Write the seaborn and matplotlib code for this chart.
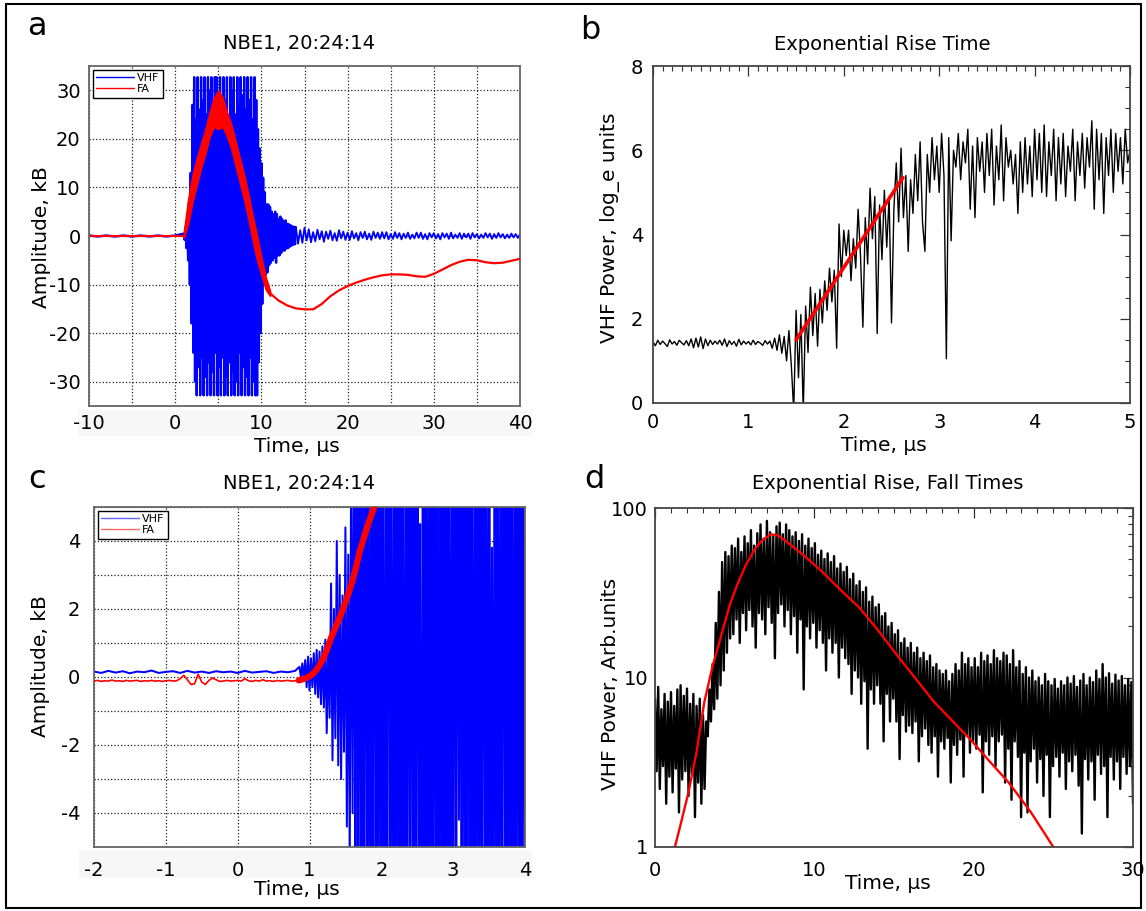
import numpy as np
import matplotlib
matplotlib.use("Agg")
import matplotlib.pyplot as plt
import seaborn as sns
from matplotlib.lines import Line2D
from matplotlib.patches import Rectangle
from matplotlib.ticker import MultipleLocator, FixedLocator, NullFormatter, FixedFormatter

# ======================= DATA =======================
# ---- Panel a : NBE1, full record (kB vs us) ----
vhf_a_pre = [0.1, -0.1, 0.1, -0.1, 0.1, -0.1, 0.1, -0.1, 0.1, -0.1, 0.1]          # t = -10 .. 0
vhf_a_burst = [                                                                    # t = 1.0 .. 14.0
    0.5, -0.8, 1.8, -2.5, 3.5, -5, 7, -10, 13, -18,
    27, -24, 32.7, -30, 24, -32.8, 32.7, -27, 26, -32.8,
    32.7, -25, 28, -32.8, 32.7, -29, 25, -32.8, 32.7, -26,
    30, -32.8, 32.7, -28, 27, -32.8, 32.7, -24, 32.7, -32.8,
    29, -27, 32.7, -32.8, 26, -25, 32.7, -32.8, 28, -29,
    32.7, -32.8, 24, -26, 32.7, -32.8, 30, -28, 32.7, -32.8,
    25, -30, 32.7, -32.8, 27, -24, 32.7, -32.8, 29, -27,
    32.7, -32.8, 26, -29, 32.7, -32.8, 28, -25, 32.7, -32.8,
    24, -30, 32.7, -32.8, 28, -32.8, 22, -26, 18, -20,
    15, -14, 12, -10, 9, -8, 6.5, -7.5, 6.5, -6,
    6, -5.5, 5, -5, 4.5, -4.5, 5, -5.5, 4.5, -4,
    3.5, -4, 4, -3.5, 3.5, -3, 3, -3, 3.2, -2.6,
    2.5, -2.5, 2.4, -2.2, 2.2, -2, 2, -1.8, 1.9, -1.7,
    1.8]
vhf_a_tail = [                                                                     # t = 14.25 .. 40
    -1.6, 1.2, -1.4, 1.7, -0.9, 1.4, -1.3, 0.8,
    -1.1, 1.3, -0.7, 1.0, -1.2, 0.9, -0.6, 1.1,
    -0.9, 0.6, -1.0, 1.2, -0.5, 0.9, -0.8, 0.7,
    -0.8, 1.0, -0.5, 0.6, -0.9, 0.8, -0.4, 0.9,
    -0.7, 0.5, -0.8, 0.9, -0.4, 0.7, -0.6, 0.8,
    -0.5, 0.8, -0.7, 0.4, -0.6, 0.8, -0.4, 0.6,
    -0.7, 0.5, -0.4, 0.7, -0.6, 0.3, -0.5, 0.7,
    -0.4, 0.7, -0.6, 0.4, -0.7, 0.6, -0.3, 0.6,
    -0.5, 0.4, -0.7, 0.6, -0.3, 0.5, -0.6, 0.7,
    -0.5, 0.3, -0.4, 0.6, -0.6, 0.5, -0.3, 0.5,
    -0.6, 0.6, -0.3, 0.4, -0.5, 0.3, -0.4, 0.6,
    -0.3, 0.5, -0.6, 0.4, -0.4, 0.6, -0.3, 0.4,
    -0.5, 0.3, -0.4, 0.5, -0.3, 0.4, -0.4, 0.4]
fa_a_base_t = [-10.0, 1.0]
fa_a_base_v = [0.0, 0.0]
fa_a_burst_t = [1.0, 1.5, 2.0, 2.5, 3.0, 3.5, 4.0, 4.5, 5.0, 5.5, 6.0,
                6.5, 7.0, 7.5, 8.0, 8.5, 9.0, 9.5, 10.0, 10.5, 11.0]
fa_a_hi = [0.8, 7.5, 12.5, 16, 19, 22, 25.5, 28.5, 30, 28.5, 25.5,
           23, 19.5, 16, 12.5, 8.5, 4, 0, -4.5, -8.5, -11.3]
fa_a_lo = [-0.3, 2.5, 7, 10.5, 14, 17, 20.5, 22.5, 22, 22.5, 20.5,
           18, 14.5, 11, 7.5, 3.5, -1, -5, -8, -11, -12.3]
fa_a_tail_t = [11, 12, 13, 14, 15, 16, 17, 18, 19, 20, 21, 22, 23, 24, 25,
               26, 27, 28, 29, 30, 31, 32, 33, 34, 35, 36, 37, 38, 39, 40]
fa_a_tail_v = [-11.8, -13.3, -14.3, -14.9, -15.1, -15.1, -14.0, -12.4, -11.2, -10.3,
               -9.6, -9.0, -8.5, -8.1, -7.9, -7.9, -8.0, -8.3, -8.4, -7.8,
               -6.9, -6.0, -5.3, -4.9, -5.0, -5.4, -5.6, -5.5, -5.1, -4.7]

# ---- Panel b : VHF power, log_e units, t = 0 .. 5 us ----
vhf_b = [
    1.45, 1.36, 1.49, 1.39, 1.47, 1.41, 1.34, 1.50, 1.40, 1.46, 1.37, 1.49, 1.43,
    1.38, 1.48, 1.36, 1.52, 1.31, 1.54, 1.33, 1.57, 1.29, 1.52, 1.36, 1.49, 1.39, 1.47,
    1.40, 1.49, 1.37, 1.52, 1.34, 1.48, 1.39, 1.46, 1.35, 1.51, 1.38, 1.47, 1.40, 1.46,
    1.38, 1.49, 1.39, 1.46, 1.42, 1.37, 1.48, 1.40, 1.47, 1.30, 1.54, 1.25,
    1.62, 1.18, 1.58, 1.00, 1.72, 0.90, -0.2, 2.20, 0.60, 2.10, -0.2, 2.30,
    1.20, 2.75, 1.60, 2.60, 1.35, 2.70, 1.90, 2.90, 2.20, 3.20, 2.40, 3.15, 1.30, 4.25, 3.00, 4.10,
    3.5, 4.1, 2.9, 3.9, 3.2, 4.6, 3.5, 1.8, 4.4, 3.3, 5.1, 3.9, 4.9, 1.65, 4.7, 3.4, 5.05, 3.7, 4.9, 1.9,
    4.6, 5.7, 4.3, 6.05, 4.4, 5.4, 3.6, 5.3, 4.5, 5.9, 4.8, 6.2, 4.3, 3.6, 5.9, 5.0, 6.3, 5.3, 6.1, 5.0,
    6.4, 5.4, 1.05, 6.3, 3.85, 6.0, 5.6, 6.4, 5.3, 6.2, 5.7, 6.5, 4.6, 6.1, 4.4, 6.3, 5.5, 6.2, 5.0, 6.4,
    5.4, 6.5, 4.7, 6.1, 5.3, 6.6, 4.8, 6.3, 5.6, 6.0, 5.2, 5.9, 4.5, 6.2, 5.0, 6.3, 5.2, 6.1, 4.9, 6.5,
    5.3, 6.4, 5.0, 6.6, 4.9, 6.2, 5.4, 6.5, 4.8, 6.3, 5.2, 6.4, 4.9, 6.1, 5.5, 6.5, 4.8, 6.2, 5.4, 6.4,
    5.1, 6.3, 5.6, 6.7, 4.6, 6.5, 5.3, 6.4, 4.5, 6.3, 5.4, 6.5, 5.0, 6.4, 5.5, 6.3, 5.2, 6.5, 5.7, 6.0]
fit_b_t = [1.5, 2.62]
fit_b_v = [1.5, 5.35]

# ---- Panel c : NBE1 zoomed onset (kB vs us) ----
vhf_c_base = [0.16, 0.12, 0.18, 0.13, 0.17, 0.11, 0.16, 0.14, 0.19, 0.12,        # t = -2.0 .. 0.8
              0.15, 0.17, 0.12, 0.18, 0.13, 0.16, 0.12, 0.17, 0.14, 0.16,
              0.12, 0.18, 0.13, 0.15, 0.17, 0.12, 0.16, 0.14, 0.18]
vhf_c_onset = [0.3, 0.0, 0.4, -0.1, 0.5, -0.3, 0.6, -0.4, 0.55, -0.3,            # t = 0.86 .. 1.64
               0.7, -0.5, 0.8, -0.6, 0.75, -0.8, 0.9, -0.9, 1.1, -1.65,
               1.0, -1.2, 2.75, -2.45, 2.0, -1.8, 4.0, -2.6, 3.0, -3.0,
               2.4, -2.2, 4.4, -4.4, 3.6, -5.6, 6.5, -4.0, 8.0, -7.0]
vhf_c_burst = [12, -9, 15, -11, 8, -14, 18, -7, 10, -16,                         # t = 1.66 .. 4.0
               13, -12, 20, -9, 11, -15, 17, -10, 9, -18,
               14, -13, 22, -8, 12, -16, 10, -11, 16, -14,
               19, -9, 13, -20, 11, -12, 15, -8, 18, -15,
               10, -13, 21, -10, 4.5, -17, 14, -11, 12, -19,
               16, -9, 11, -14, 20, -12, 9, -16, 15, -10,
               13, -18, 17, -11, 10, -15, 12, -9, 19, -13,
               14, -4.2, 11, -16, 18, -10, 9, -14, 22, -12,
               13, -17, 10, -11, 16, -15, 12, -9, 20, -13,
               11, -18, 15, -10, 3.8, -14, 17, -12, 10, -16,
               14, -9, 19, -11, 12, -15, 16, -10, 13, -17,
               11, -12, 18, -14, 12, -10, 15, -13]
fa_c_base = [-0.12, -0.10, -0.13, -0.11, -0.12, -0.09, -0.12, -0.11, -0.13, -0.10,   # t = -2.0 .. 0.85
             -0.12, -0.11, -0.10, -0.13, -0.11, -0.12, -0.10, -0.12, -0.11, -0.13,
             -0.11, -0.10, -0.12, -0.11, -0.05, 0.05, -0.08, -0.22, -0.20, 0.08,
             -0.15, -0.22, -0.10, -0.03, -0.08, -0.13, -0.12, -0.10, -0.12, -0.11,
             -0.10, -0.12, -0.05, -0.11, -0.13, -0.10, -0.12, -0.08, -0.12, -0.11,
             -0.13, -0.10, -0.12, -0.11, -0.10, -0.12, -0.11, -0.10]
fa_c_rise_t = [0.85, 0.9, 0.95, 1.0, 1.05, 1.1, 1.15, 1.2, 1.25, 1.3, 1.35, 1.4, 1.45,
               1.5, 1.55, 1.6, 1.65, 1.7, 1.75, 1.8, 1.85, 1.9, 1.95, 2.0, 2.05]
fa_c_rise_v = [-0.1, -0.07, -0.03, 0.02, 0.1, 0.22, 0.38, 0.58, 0.85, 1.15, 1.4, 1.65, 1.9,
               2.2, 2.5, 2.85, 3.25, 3.7, 4.05, 4.4, 4.7, 5.0, 5.3, 5.6, 5.9]

# ---- Panel d : VHF power (arb. units), t = 0 .. 30 us, upper / lower extremes ----
pow_d_hi = [7.5, 8.8, 6.5, 8.0, 7.2,   8.2, 6.8, 8.5, 9.0, 7.8,   8.6, 7.0, 8.0, 6.8, 7.5,
            6.0, 5.5, 8.5, 12, 21,     32, 48, 55, 52, 60,        58, 66, 55, 68, 62,
            74, 60, 71, 80, 66,        84, 72, 68, 78, 82,        70, 80, 74, 68, 72,
            64, 70, 60, 66, 58,        62, 53, 56, 50, 54,        48, 52, 44, 47, 42,
            45, 38, 41, 35, 37,        32, 34, 28, 30, 26,        27, 23, 24, 20, 21,
            18, 19, 16, 17, 15,        16, 14, 15, 13, 14,        12.5, 13.5, 11.5, 12, 11,
            10.5, 11, 9.5, 10.5, 12,   11, 14, 12, 13, 11.5,      13, 11.5, 14, 12.5, 13.5,
            12, 14.5, 13, 12.5, 14,    13.5, 12, 14.5, 11.5, 12.5, 10.5, 11.5, 10, 11, 9.5,
            10, 9, 10.5, 9.5, 9,       9.8, 8.6, 9.5, 9, 10,      9.2, 10.2, 8.8, 9.6, 10.5,
            9, 10, 9.4, 11, 9.8,       12, 10, 10.6, 9.2, 10.4,   9.6, 10.2, 9, 9.8, 9.4]
pow_d_lo = [2.8, 2.2, 3.0, 1.8, 2.6,   2.1, 2.9, 1.6, 2.5, 2.8,   2.0, 2.7, 1.5, 2.4, 1.8,
            2.2, 4.5, 5.5, 6.5, 7.5,   9, 11, 14, 17, 18,         22, 16, 24, 19, 25,
            20, 15, 24, 22, 18,        26, 21, 13, 24, 27,        20, 25, 18, 23, 14,
            22, 8.5, 20, 17, 21,       15, 19, 16, 11, 17,        14, 16, 10, 15, 13,
            12, 8, 11, 10, 7,          9.5, 3.8, 8.5, 7, 9,       7, 4.2, 8, 5.5, 7.5,
            5.5, 3.3, 6, 4.8, 5.2,     4.7, 5.5, 3.2, 4.5, 5,     4, 3.6, 4.5, 2.6, 4.2,
            3.8, 4.4, 2.4, 4, 3.5,     4.3, 2.6, 4.6, 3.6, 4.2,   3.8, 4.6, 2.1, 4.2, 3.5,
            4.5, 3, 4.2, 4.6, 2.4,     3.8, 1.9, 4.2, 3.4, 1.5,   3.6, 1.6, 3.2, 3.8, 2.4,
            3.3, 2, 3.5, 1.5, 3,       3.4, 2.6, 3.6, 2.2, 3.2,   2.8, 3.5, 2.3, 1.2, 3.3,
            2.5, 3.2, 1.9, 3.5, 2.7,   3, 1.5, 3.4, 2.5, 3.2,     2.2, 3.4, 2.7, 3, 1.8]
fit_d_t = [1.25, 1.6, 2.1, 2.6, 3.1, 3.6, 4.2, 4.7, 5.2, 5.7, 6.25, 6.7, 7.26, 7.7, 8.1,
           9.3, 10.5, 11.7, 12.85, 14.0, 15.2, 16.3, 17.5, 18.7, 19.9, 21.0, 22.2, 23.6, 25.0]
fit_d_v = [1.0, 1.35, 2.1, 3.6, 7.2, 11.5, 18.3, 27, 36, 46, 57, 64, 70, 69, 65,
           53, 42, 32.5, 25.7, 19, 13.5, 10, 7.2, 5.5, 4.2, 3.2, 2.4, 1.6, 1.0]

# ======================= STYLE =======================
sns.set_style("white")
plt.rcParams['font.family'] = ['DejaVu Sans']
plt.rcParams['axes.unicode_minus'] = False
plt.rcParams['path.simplify'] = False
for k in ['text.color', 'axes.labelcolor', 'xtick.labelcolor', 'ytick.labelcolor']:
    plt.rcParams[k] = 'black'
BLUE, RED, BLACK = '#0000ff', '#ff0000', '#000000'
FS_TICK, FS_LAB = 14, 14.5

W, H = 1146, 911
fig = plt.figure(figsize=(W / 100, H / 100), dpi=100)


def axes_px(left, top, right, bottom):
    return fig.add_axes([left / W, 1 - bottom / H, (right - left) / W, (bottom - top) / H])


def line(ax, x, y, **kw):
    sns.lineplot(x=np.asarray(x, float), y=np.asarray(y, float), ax=ax,
                 estimator=None, sort=False, **kw)


def style_labels(ax, xl, yl, title, xlc, ylc, tc, fs_t=14):
    ax.set_xlabel(xl, fontsize=FS_LAB)
    ax.set_ylabel(yl, fontsize=FS_LAB)
    ax.xaxis.set_label_coords(*xlc)
    ax.yaxis.set_label_coords(*ylc)
    ax.xaxis.label.set_va('center')
    ax.yaxis.label.set_va('center')
    ax.set_title(title, fontsize=fs_t, x=tc[0], y=tc[1], va='center', pad=0)


def legend_vhf_fa(ax, alpha=1.0):
    handles = [Line2D([], [], color=BLUE, lw=1.0, alpha=alpha),
               Line2D([], [], color=RED, lw=1.0, alpha=alpha)]
    leg = ax.legend(handles, ['VHF', 'FA'], loc='upper left', fontsize=8,
                    frameon=True, fancybox=False, framealpha=1, edgecolor='black',
                    handlelength=3.4, handletextpad=0.3, borderpad=0.3,
                    labelspacing=0.1, borderaxespad=0.35)
    leg.get_frame().set_linewidth(1.0)
    leg.set_zorder(10)


# very light gray strips behind the x tick labels of a and c (as in the original)
for (x0, y0, x1, y1) in [(78, 410, 532, 436), (79, 850, 532, 878)]:
    fig.add_artist(Rectangle((x0 / W, 1 - y1 / H), (x1 - x0) / W, (y1 - y0) / H,
                             transform=fig.transFigure, color='#f7f7f7', zorder=-1, lw=0))

# ---------------- Panel a ----------------
ax = axes_px(89, 66, 520, 406)
t_pre = np.linspace(-10, 0, len(vhf_a_pre))
t_burst = np.linspace(1.0, 14.0, len(vhf_a_burst))
t_tail = np.linspace(14.25, 40.0, len(vhf_a_tail))
line(ax, np.concatenate([t_pre, t_burst]), np.concatenate([vhf_a_pre, vhf_a_burst]),
     color=BLUE, lw=1.7)
line(ax, np.concatenate([[t_burst[-1]], t_tail]), np.concatenate([[vhf_a_burst[-1]], vhf_a_tail]),
     color=BLUE, lw=1.3)
line(ax, fa_a_base_t, fa_a_base_v, color=RED, lw=1.5)
ax.fill_between(fa_a_burst_t, fa_a_lo, fa_a_hi, color=RED, lw=1.2, edgecolor=RED, zorder=3)
line(ax, fa_a_tail_t, fa_a_tail_v, color=RED, lw=1.6, zorder=3)
ax.set_xlim(-10, 40)
ax.set_ylim(-35, 35)
ax.xaxis.set_major_locator(MultipleLocator(10))
ax.xaxis.set_minor_locator(MultipleLocator(5))
ax.yaxis.set_major_locator(MultipleLocator(10))
ax.grid(True, which='both', axis='x', ls=':', color='#222222', lw=0.9)
ax.grid(True, which='major', axis='y', ls=':', color='#222222', lw=0.9)
ax.tick_params(which='both', direction='in', length=3, width=0.8, color='#555555',
               labelsize=FS_TICK, pad=6, top=False, right=False)
for s in ax.spines.values():
    s.set_color('#666666'); s.set_linewidth(1.3)
style_labels(ax, 'Time, μs', 'Amplitude, kB', 'NBE1, 20:24:14',
             (0.483, -0.118), (-0.111, 0.497), (0.487, 1.065))
legend_vhf_fa(ax)

# ---------------- Panel b ----------------
ax = axes_px(653, 66, 1130, 403)
line(ax, np.linspace(0, 5, len(vhf_b)), vhf_b, color=BLACK, lw=1.0)
line(ax, fit_b_t, fit_b_v, color=RED, lw=2.6)
ax.set_xlim(0, 5)
ax.set_ylim(0, 8)
ax.xaxis.set_major_locator(MultipleLocator(1))
ax.xaxis.set_minor_locator(MultipleLocator(0.1))
ax.yaxis.set_major_locator(MultipleLocator(2))
ax.yaxis.set_minor_locator(MultipleLocator(0.5))
ax.tick_params(which='major', direction='in', length=7, width=0.9, top=True, right=True,
               labelsize=FS_TICK, pad=7, color='#333333')
ax.tick_params(which='minor', direction='in', length=3.5, width=0.8, top=True, right=True,
               color='#333333')
for s in ax.spines.values():
    s.set_color('#444444'); s.set_linewidth(1.3)
style_labels(ax, 'Time, μs', 'VHF Power, log_e units', 'Exponential Rise Time',
             (0.484, -0.125), (-0.090, 0.519), (0.480, 1.065))

# ---------------- Panel c ----------------
ax = axes_px(94, 507, 525, 847)
t_c = np.concatenate([np.linspace(-2.0, 0.8, len(vhf_c_base)),
                      np.linspace(0.86, 1.64, len(vhf_c_onset)),
                      np.linspace(1.66, 4.0, len(vhf_c_burst))])
v_c = np.concatenate([vhf_c_base, vhf_c_onset, vhf_c_burst])
line(ax, t_c, v_c, color=BLUE, lw=1.45)
line(ax, np.linspace(-2.0, 0.85, len(fa_c_base)), fa_c_base, color=RED, lw=1.2, zorder=3)
line(ax, fa_c_rise_t, fa_c_rise_v, color=RED, lw=4.5, zorder=3)
ax.set_xlim(-2, 4)
ax.set_ylim(-5, 5)
ax.xaxis.set_major_locator(MultipleLocator(1))
ax.yaxis.set_major_locator(MultipleLocator(2))
ax.yaxis.set_minor_locator(MultipleLocator(1))
ax.grid(True, which='both', ls=':', color='#222222', lw=0.9)
ax.tick_params(which='both', direction='in', length=3, width=0.8, color='#555555',
               labelsize=FS_TICK, pad=10, top=False, right=False)
for s in ax.spines.values():
    s.set_color('#666666'); s.set_linewidth(1.3)
style_labels(ax, 'Time, μs', 'Amplitude, kB', 'NBE1, 20:24:14',
             (0.471, -0.125), (-0.125, 0.532), (0.476, 1.068))
legend_vhf_fa(ax, alpha=0.6)

# ---------------- Panel d ----------------
ax = axes_px(655, 508, 1133, 847)
t_d = np.linspace(0, 29.9, len(pow_d_hi))
half = (t_d[1] - t_d[0]) / 2
xd = np.column_stack([t_d, t_d + half]).ravel()
yd = np.column_stack([pow_d_hi, pow_d_lo]).ravel()
line(ax, xd, yd, color=BLACK, lw=1.7)
line(ax, fit_d_t, fit_d_v, color=RED, lw=1.7)
ax.set_yscale('log')
ax.set_xlim(0, 30)
ax.set_ylim(1, 100)
ax.xaxis.set_major_locator(MultipleLocator(10))
ax.xaxis.set_minor_locator(MultipleLocator(1))
ax.yaxis.set_major_locator(FixedLocator([1, 10, 100]))
ax.yaxis.set_major_formatter(FixedFormatter(['1', '10', '100']))
ax.yaxis.set_minor_locator(FixedLocator([2, 3, 4, 5, 6, 7, 8, 9, 20, 30, 40, 50, 60, 70, 80, 90]))
ax.yaxis.set_minor_formatter(NullFormatter())
ax.tick_params(which='major', direction='in', length=7, width=0.9, top=True, right=True,
               labelsize=FS_TICK, pad=5, color='#333333')
ax.tick_params(which='minor', direction='in', length=3.5, width=0.8, top=True, right=True,
               color='#333333')
ax.tick_params(axis='x', which='major', pad=10)
for s in ax.spines.values():
    s.set_color('#444444'); s.set_linewidth(1.3)
style_labels(ax, 'Time, μs', 'VHF Power, Arb.units', 'Exponential Rise, Fall Times',
             (0.487, -0.108), (-0.094, 0.481), (0.487, 1.071))

# ---------------- panel letters and outer frame ----------------
for letter, x, y in [('a', 27, 35), ('b', 580, 39), ('c', 28, 488), ('d', 584, 488)]:
    fig.text(x / W, 1 - y / H, letter, fontsize=23, ha='left', va='baseline')

fig.add_artist(Rectangle((6 / W, 1 - 908 / H), (1141 - 6) / W, (908 - 4) / H,
                         transform=fig.transFigure, fill=False, edgecolor='black', lw=1.5))

fig.savefig('out.png', dpi=100)
